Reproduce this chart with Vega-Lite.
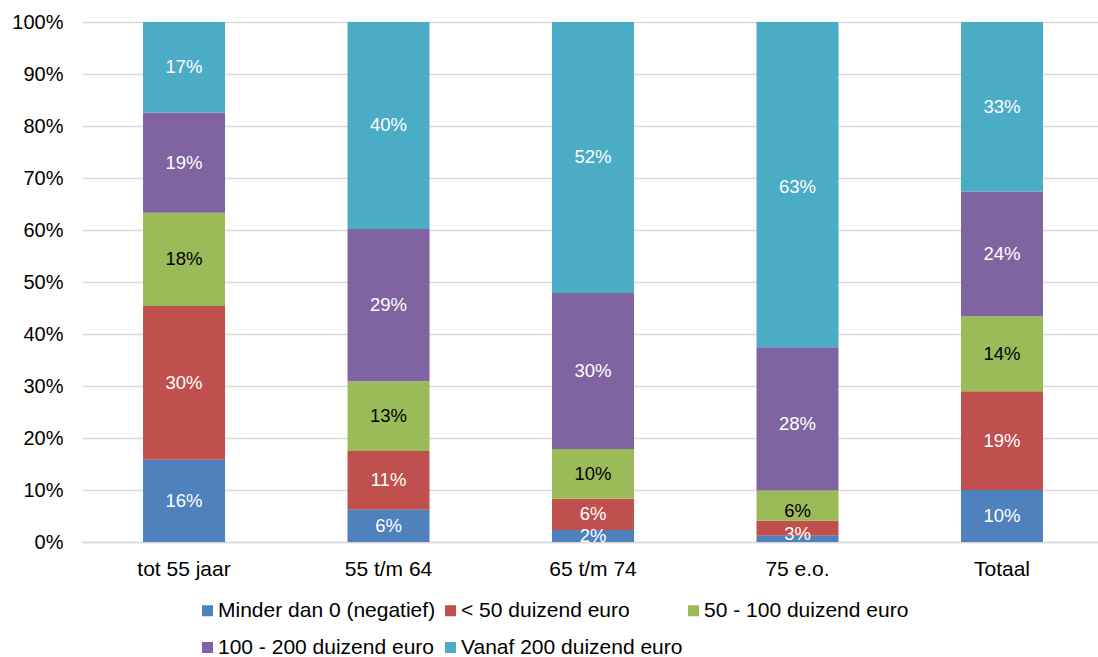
{
  "$schema": "https://vega.github.io/schema/vega-lite/v6.json",
  "width": 1016,
  "height": 520,
  "autosize": {"type": "none"},
  "padding": {"left": 82, "top": 22, "right": 0, "bottom": 115},
  "background": "white",
  "config": {
    "view": {"stroke": null},
    "font": "Liberation Sans",
    "axis": {"labelFont": "Liberation Sans", "labelColor": "#000000", "labelFontSize": 20}
  },
  "data": {
    "values": [
      {"groep": "tot 55 jaar", "reeks": "Minder dan 0 (negatief)", "volgorde": 1, "aandeel": 0.158},
      {"groep": "tot 55 jaar", "reeks": "< 50 duizend euro", "volgorde": 2, "aandeel": 0.296},
      {"groep": "tot 55 jaar", "reeks": "50 - 100 duizend euro", "volgorde": 3, "aandeel": 0.179},
      {"groep": "tot 55 jaar", "reeks": "100 - 200 duizend euro", "volgorde": 4, "aandeel": 0.193},
      {"groep": "tot 55 jaar", "reeks": "Vanaf 200 duizend euro", "volgorde": 5, "aandeel": 0.174},
      {"groep": "55 t/m 64", "reeks": "Minder dan 0 (negatief)", "volgorde": 1, "aandeel": 0.062},
      {"groep": "55 t/m 64", "reeks": "< 50 duizend euro", "volgorde": 2, "aandeel": 0.113},
      {"groep": "55 t/m 64", "reeks": "50 - 100 duizend euro", "volgorde": 3, "aandeel": 0.134},
      {"groep": "55 t/m 64", "reeks": "100 - 200 duizend euro", "volgorde": 4, "aandeel": 0.293},
      {"groep": "55 t/m 64", "reeks": "Vanaf 200 duizend euro", "volgorde": 5, "aandeel": 0.398},
      {"groep": "65 t/m 74", "reeks": "Minder dan 0 (negatief)", "volgorde": 1, "aandeel": 0.023},
      {"groep": "65 t/m 74", "reeks": "< 50 duizend euro", "volgorde": 2, "aandeel": 0.060},
      {"groep": "65 t/m 74", "reeks": "50 - 100 duizend euro", "volgorde": 3, "aandeel": 0.096},
      {"groep": "65 t/m 74", "reeks": "100 - 200 duizend euro", "volgorde": 4, "aandeel": 0.300},
      {"groep": "65 t/m 74", "reeks": "Vanaf 200 duizend euro", "volgorde": 5, "aandeel": 0.521},
      {"groep": "75 e.o.", "reeks": "Minder dan 0 (negatief)", "volgorde": 1, "aandeel": 0.012},
      {"groep": "75 e.o.", "reeks": "< 50 duizend euro", "volgorde": 2, "aandeel": 0.029},
      {"groep": "75 e.o.", "reeks": "50 - 100 duizend euro", "volgorde": 3, "aandeel": 0.058},
      {"groep": "75 e.o.", "reeks": "100 - 200 duizend euro", "volgorde": 4, "aandeel": 0.2755},
      {"groep": "75 e.o.", "reeks": "Vanaf 200 duizend euro", "volgorde": 5, "aandeel": 0.6255},
      {"groep": "Totaal", "reeks": "Minder dan 0 (negatief)", "volgorde": 1, "aandeel": 0.100},
      {"groep": "Totaal", "reeks": "< 50 duizend euro", "volgorde": 2, "aandeel": 0.190},
      {"groep": "Totaal", "reeks": "50 - 100 duizend euro", "volgorde": 3, "aandeel": 0.144},
      {"groep": "Totaal", "reeks": "100 - 200 duizend euro", "volgorde": 4, "aandeel": 0.240},
      {"groep": "Totaal", "reeks": "Vanaf 200 duizend euro", "volgorde": 5, "aandeel": 0.326}
    ]
  },
  "encoding": {
    "x": {
      "field": "groep",
      "type": "nominal",
      "sort": ["tot 55 jaar", "55 t/m 64", "65 t/m 74", "75 e.o.", "Totaal"],
      "scale": {"paddingInner": 0.599, "paddingOuter": 0.2837, "align": 0.526},
      "axis": {
        "title": null,
        "labelAngle": 0,
        "ticks": false,
        "domainColor": "#d9d9d9",
        "domainWidth": 1.5,
        "labelPadding": 16,
        "labelFontSize": 21,
        "grid": false
      }
    },
    "y": {
      "field": "aandeel",
      "type": "quantitative",
      "stack": "normalize",
      "scale": {"domain": [0, 1]},
      "axis": {
        "title": null,
        "format": ".0%",
        "values": [0, 0.1, 0.2, 0.3, 0.4, 0.5, 0.6, 0.7, 0.8, 0.9, 1],
        "domain": false,
        "ticks": false,
        "gridColor": "#d9d9d9",
        "gridWidth": 1.5,
        "labelPadding": 19
      }
    },
    "order": {"field": "volgorde", "type": "quantitative", "sort": "ascending"}
  },
  "layer": [
    {
      "mark": {"type": "bar"},
      "encoding": {
        "color": {
          "field": "reeks",
          "type": "nominal",
          "sort": ["Minder dan 0 (negatief)", "< 50 duizend euro", "50 - 100 duizend euro", "100 - 200 duizend euro", "Vanaf 200 duizend euro"],
          "scale": {
            "domain": ["Minder dan 0 (negatief)", "< 50 duizend euro", "50 - 100 duizend euro", "100 - 200 duizend euro", "Vanaf 200 duizend euro"],
            "range": ["#4f81bd", "#c0504d", "#9bbb59", "#8064a2", "#4bacc6"]
          },
          "legend": {
            "title": null,
            "orient": "none",
            "legendX": 115,
            "legendY": 578,
            "direction": "horizontal",
            "columns": 3,
            "gridAlign": "all",
            "columnPadding": 0,
            "rowPadding": 15,
            "symbolType": "square",
            "symbolSize": 121,
            "symbolStrokeWidth": 0,
            "symbolOpacity": 1,
            "labelFont": "Liberation Sans",
            "labelFontSize": 21,
            "labelColor": "#000000",
            "labelOffset": 0,
            "labelLimit": 400
          }
        }
      }
    },
    {
      "transform": [{"filter": "datum.aandeel >= 0.015"}],
      "mark": {"type": "text", "font": "Liberation Sans", "fontSize": 18.5, "baseline": "middle", "align": "center"},
      "encoding": {
        "y": {"field": "aandeel", "type": "quantitative", "stack": "normalize", "bandPosition": 0.5},
        "text": {"field": "aandeel", "type": "quantitative", "format": ".0%"},
        "color": {
          "condition": {"test": "datum.reeks === '50 - 100 duizend euro'", "value": "#000000"},
          "value": "#ffffff"
        }
      }
    }
  ]
}
